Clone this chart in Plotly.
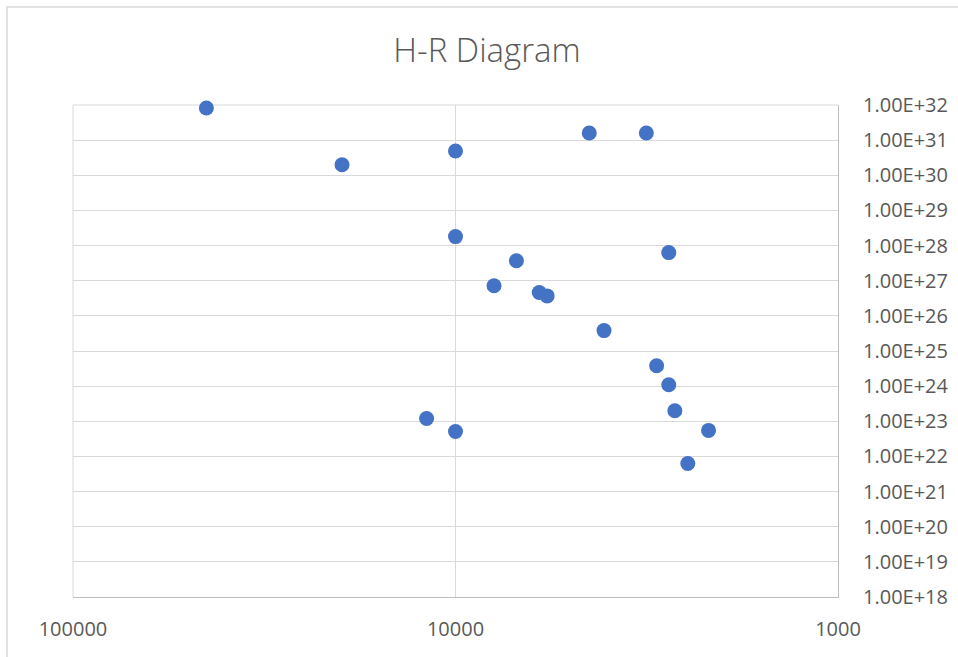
import plotly.graph_objects as go

# surface temperature (K) and luminosity (W)
temperature = [44800, 4470, 3170, 10000, 19800, 10000, 6930, 2770, 7930, 6040,
               5760, 4090, 2980, 2770, 2670, 11900, 10000, 2180, 2470]
luminosity = [8.2e31, 1.6e31, 1.6e31, 4.9e30, 2.0e30, 1.8e28, 3.7e27, 6.3e27, 7.2e26, 4.6e26,
              3.7e26, 3.8e25, 3.8e24, 1.1e24, 2.0e23, 1.2e23, 5.1e22, 5.5e22, 6.3e21]

x_tickvals = [100000, 10000, 1000]
x_ticktext = ["100000", "10000", "1000"]
y_tickvals = [1e18, 1e19, 1e20, 1e21, 1e22, 1e23, 1e24, 1e25,
              1e26, 1e27, 1e28, 1e29, 1e30, 1e31, 1e32]
y_ticktext = ["1.00E+18", "1.00E+19", "1.00E+20", "1.00E+21", "1.00E+22",
              "1.00E+23", "1.00E+24", "1.00E+25", "1.00E+26", "1.00E+27",
              "1.00E+28", "1.00E+29", "1.00E+30", "1.00E+31", "1.00E+32"]

GRID = "#D9D9D9"
AXIS = "#BFBFBF"
TEXT = "#595959"
FONT = "Open Sans"

W, H = 958, 657
L, R, T, B = 73, 120, 105, 60

fig = go.Figure(go.Scatter(
    x=temperature, y=luminosity, mode="markers", cliponaxis=False,
    marker=dict(color="#4472C4", size=15, line=dict(width=0)),
))

fig.update_layout(
    width=W, height=H,
    paper_bgcolor="white", plot_bgcolor="white",
    margin=dict(l=L, r=R, t=T, b=B, autoexpand=False),
    showlegend=False,
    font=dict(family=FONT, color=TEXT, size=20),
    title=dict(text="H-R Diagram", xref="container", x=487 / W, xanchor="center",
               yref="container", y=1 - 50 / H, yanchor="middle",
               font=dict(family=FONT, size=33, color=TEXT, weight=300)),
    xaxis=dict(
        type="log", range=[5, 3], autorange=False,
        tickvals=x_tickvals, ticktext=x_ticktext,
        showgrid=True, gridcolor=GRID, gridwidth=1,
        showline=True, linecolor=AXIS, linewidth=1,
        ticks="outside", ticklen=14, tickcolor="rgba(0,0,0,0)",
        tickfont=dict(family=FONT, size=20, color=TEXT),
        zeroline=False,
    ),
    yaxis=dict(
        type="log", range=[18, 32], autorange=False, side="right",
        tickvals=y_tickvals, ticktext=y_ticktext,
        showgrid=True, gridcolor=GRID, gridwidth=1,
        showline=True, linecolor=AXIS, linewidth=1,
        ticks="outside", ticklen=20, tickcolor="rgba(0,0,0,0)",
        tickfont=dict(family=FONT, size=20, color=TEXT),
        zeroline=False,
    ),
)

# top and left edges of the plot area are plain gridlines in the original
fig.add_shape(type="line", xref="paper", yref="paper", x0=0, x1=1, y0=1, y1=1,
              line=dict(color=GRID, width=1), layer="below")
fig.add_shape(type="line", xref="paper", yref="paper", x0=0, x1=0, y0=0, y1=1,
              line=dict(color=GRID, width=1), layer="below")

# outer chart-area border (runs past the right/bottom of the window)
pw, ph = W - L - R, H - T - B
fig.add_shape(type="rect", xref="paper", yref="paper",
              x0=(7 - L) / pw, x1=1.3, y0=-0.3, y1=(H - B - 7) / ph,
              line=dict(color=GRID, width=1.5), layer="below")

fig.write_html("out.html", config={"displayModeBar": False},
               post_script="document.body.style.margin='0';")
